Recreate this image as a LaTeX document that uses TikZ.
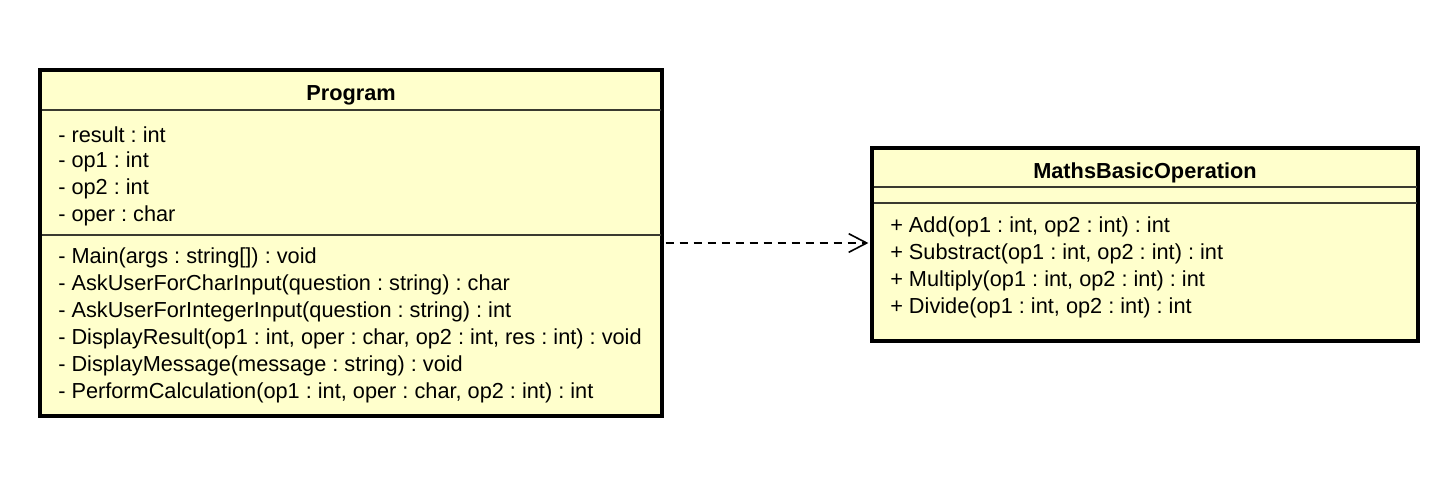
\documentclass[tikz,border=0pt]{standalone}
\usepackage{fontspec}
\setmainfont{Liberation Sans}
\usetikzlibrary{arrows.meta}
\definecolor{umlfill}{HTML}{FFFFCC}
\definecolor{seplc}{HTML}{3A3A30}
\frenchspacing
\tikzset{
  classbox/.style={draw=black, line width=2.4pt, fill=umlfill, inner sep=0pt},
  sepline/.style={draw=seplc, line width=0.9pt},
  member/.style={anchor=west, inner sep=0pt, font=\fontsize{16.3}{19}\selectfont\frenchspacing},
  title/.style={inner sep=0pt, font=\fontsize{16.3}{19}\selectfont\bfseries},
  dep/.style={draw=black, line width=1.1pt, dash pattern=on 6pt off 4.5pt,
    -{Straight Barb[length=13.5pt, width=14pt, line width=1.2pt]}}
}
\begin{document}
\begin{tikzpicture}[x=0.75pt, y=-0.75pt]
\useasboundingbox (0,0) rectangle (1435,476);
% Program class
\node[classbox, minimum width=622*0.75pt, minimum height=346*0.75pt] (prog) at (351,243) {};
\node[title] (progtitle) at (351,95) {Program};
\draw[sepline] (41.5,110) -- (660.5,110);
\draw[sepline] (41.5,235) -- (660.5,235);
\node[member] (pa1) at (58,135) {- result : int};
\node[member] (pa2) at (58,162) {- op1 : int};
\node[member] (pa3) at (58,189) {- op2 : int};
\node[member] (pa4) at (58,216) {- oper : char};
\node[member] (po1) at (58,258) {- Main(args : string[]) : void};
\node[member] (po2) at (58,285) {- AskUserForCharInput(question : string) : char};
\node[member] (po3) at (58,312) {- AskUserForIntegerInput(question : string) : int};
\node[member] (po4) at (58,339) {- DisplayResult(op1 : int, oper : char, op2 : int, res : int) : void};
\node[member] (po5) at (58,366) {- DisplayMessage(message : string) : void};
\node[member] (po6) at (58,393) {- PerformCalculation(op1 : int, oper : char, op2 : int) : int};
% MathsBasicOperation class
\node[classbox, minimum width=546*0.75pt, minimum height=193*0.75pt] (maths) at (1145,244.5) {};
\node[title] (mathstitle) at (1145,173) {MathsBasicOperation};
\draw[sepline] (873.5,187) -- (1416.5,187);
\draw[sepline] (873.5,203) -- (1416.5,203);
\node[member] (mo1) at (890,227) {+ Add(op1 : int, op2 : int) : int};
\node[member] (mo2) at (890,254) {+ Substract(op1 : int, op2 : int) : int};
\node[member] (mo3) at (890,281) {+ Multiply(op1 : int, op2 : int) : int};
\node[member] (mo4) at (890,308) {+ Divide(op1 : int, op2 : int) : int};
% dependency
\draw[dep] ([xshift=1.5pt]prog.east) -- ([xshift=-1.5pt]prog.east -| maths.west);
\end{tikzpicture}
\end{document}
